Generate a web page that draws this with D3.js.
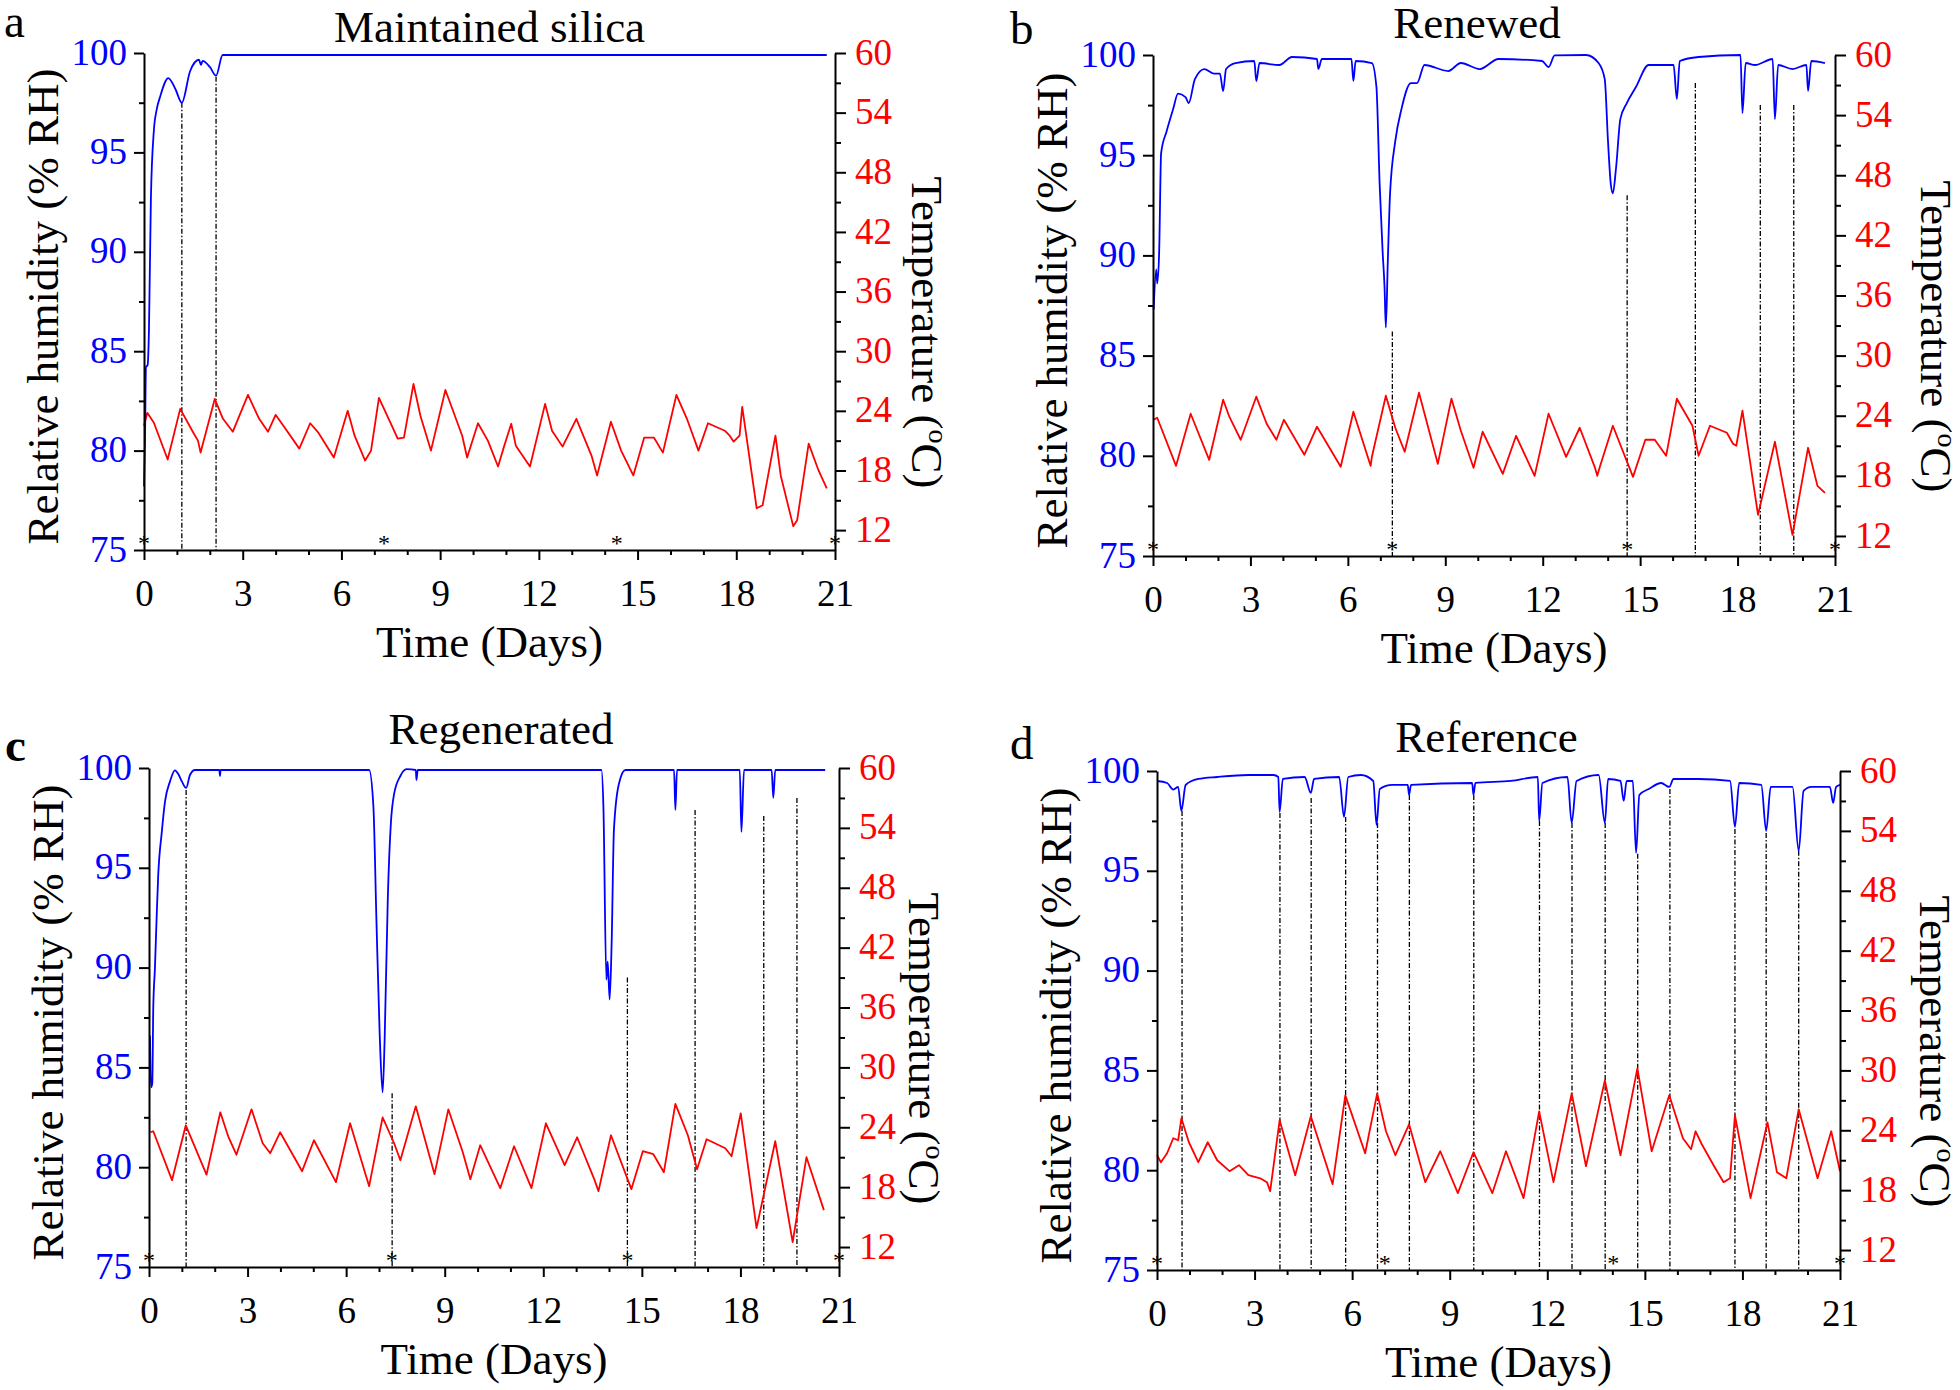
<!DOCTYPE html>
<html>
<head>
<meta charset="utf-8">
<script src="https://cdn.jsdelivr.net/npm/d3@7"></script>
<style>
  body { margin: 0; background: #fff; }
  text { font-family: "Liberation Serif", Tinos, "Times New Roman", Times, "DejaVu Serif", serif; }
</style>
</head>
<body>
<svg id="chart" width="1960" height="1390"></svg>
<script>
// ticks
const dayTicks = [0, 3, 6, 9, 12, 15, 18, 21];
const dayMinor = [1, 2, 4, 5, 7, 8, 10, 11, 13, 14, 16, 17, 19, 20];
const rhTicks = [75, 80, 85, 90, 95, 100];
const rhMinor = [77.5, 82.5, 87.5, 92.5, 97.5];
const tempTicks = [12, 18, 24, 30, 36, 42, 48, 54, 60];
const tempMinor = [15, 21, 27, 33, 39, 45, 51, 57];

const titles = ['Maintained silica', 'Renewed', 'Regenerated', 'Reference'];
const letters = ['a', 'b', 'c', 'd'];

// a - maintained silica  [day, value]
const rhA = [[0, 78.2], [0.03, 80.5], [0.06, 84.2], [0.11, 84.3], [0.15, 86.0], [0.21, 92.7], [0.3, 96.1],
  [0.385, 97.15], [0.49, 97.8], [0.74, 98.74], [0.95, 98.2], [1.15, 97.5], [1.4, 99.08], [1.67, 99.66],
  [1.73, 99.4], [1.78, 99.6], [2.0, 99.3], [2.19, 98.86], [2.39, 99.9], [10, 99.9], [20.75, 99.9]];
const tempA = [[0, 22.5], [0.1, 23.8], [0.3, 22.8], [0.72, 19.1], [1.1, 24.2], [1.5, 21.8], [1.64, 21.0],
  [1.72, 19.8], [2.15, 25.2], [2.4, 23.2], [2.7, 21.9], [3.16, 25.6], [3.5, 23.2], [3.77, 21.9], [4.0, 23.6],
  [4.3, 22.2], [4.72, 20.2], [5.05, 22.75], [5.3, 21.8], [5.77, 19.3], [6.19, 24.0], [6.4, 21.5], [6.72, 19.0],
  [6.9, 20.0], [7.14, 25.3], [7.45, 23.1], [7.71, 21.2], [7.9, 21.3], [8.19, 26.7], [8.4, 23.5], [8.72, 20.0],
  [9.16, 26.1], [9.67, 21.5], [9.82, 19.3], [10.15, 22.75], [10.45, 21.0], [10.76, 18.4], [10.95, 20.5],
  [11.16, 22.7], [11.3, 20.5], [11.73, 18.4], [12.19, 24.7], [12.4, 22.0], [12.72, 20.4], [13.14, 23.2],
  [13.6, 19.5], [13.77, 17.5], [14.19, 22.9], [14.5, 20.0], [14.87, 17.5], [15.2, 21.3], [15.5, 21.3],
  [15.77, 19.8], [16.18, 25.6], [16.5, 23.2], [16.85, 20.0], [17.14, 22.75], [17.65, 22.0], [17.8, 21.5],
  [17.92, 20.9], [18.1, 21.5], [18.18, 24.4], [18.62, 14.2], [18.8, 14.5], [19.19, 21.5], [19.35, 17.5],
  [19.73, 12.4], [19.85, 13.0], [20.2, 20.7], [20.5, 18.0], [20.75, 16.2]];
const guidesA = [[1.15, 97.5], [2.19, 98.8]];
const starsA = [0, 7.29, 14.37, 21];

// b - renewed
const rhB = [[0.02, 87.3], [0.1, 89.3], [0.13, 88.6], [0.19, 90.2], [0.25, 95.1], [0.42, 96.2], [0.62, 97.3],
  [0.77, 98.07], [1.0, 97.9], [1.1, 97.6], [1.29, 98.8], [1.58, 99.3], [1.87, 99.07], [2.06, 99.07],
  [2.16, 98.2], [2.25, 99.3], [2.54, 99.6], [3.12, 99.7], [3.18, 98.7], [3.28, 99.6], [3.89, 99.5],
  [4.28, 99.9], [5.05, 99.8], [5.09, 99.3], [5.2, 99.8], [6.11, 99.8], [6.17, 98.7], [6.24, 99.7],
  [6.74, 99.6], [6.88, 98.4], [6.98, 93.5], [7.07, 90.2], [7.13, 88.4], [7.17, 86.4], [7.23, 89.7],
  [7.3, 93.1], [7.46, 95.7], [7.65, 97.3], [7.94, 98.6], [8.13, 98.6], [8.36, 99.5], [9.09, 99.2],
  [9.48, 99.6], [10.06, 99.3], [10.64, 99.8], [11.98, 99.7], [12.18, 99.4], [12.37, 99.98], [13.33, 100],
  [13.72, 99.6], [13.91, 98.8], [14.01, 95.7], [14.1, 93.5], [14.16, 93.1], [14.26, 94.4], [14.39, 96.8],
  [14.59, 97.6], [14.87, 98.4], [15.26, 99.5], [16.03, 99.5], [16.13, 97.8], [16.22, 99.7], [16.8, 99.9],
  [18.09, 100], [18.15, 97.1], [18.25, 99.6], [18.54, 99.5], [19.08, 99.8], [19.15, 96.8], [19.25, 99.5],
  [19.69, 99.3], [20.12, 99.5], [20.17, 98.2], [20.27, 99.7], [20.69, 99.6]];
const tempB = [[0.02, 23.6], [0.13, 23.8], [0.71, 19.0], [1.16, 24.2], [1.73, 19.6], [2.16, 25.6], [2.35, 23.9],
  [2.7, 21.6], [3.18, 25.9], [3.5, 23.2], [3.8, 21.6], [4.03, 23.6], [4.66, 20.1], [5.05, 22.9], [5.78, 18.9],
  [6.17, 24.4], [6.7, 19.0], [6.74, 19.9], [7.17, 26.0], [7.46, 22.8], [7.75, 20.4], [8.19, 26.3], [8.77, 19.2],
  [9.19, 25.7], [9.48, 22.5], [9.87, 18.8], [10.15, 22.4], [10.77, 18.2], [11.18, 22.0], [11.75, 18.0],
  [12.18, 24.2], [12.72, 19.9], [13.14, 22.8], [13.6, 18.9], [13.68, 18.0], [13.76, 18.9], [14.16, 23.0],
  [14.78, 17.9], [15.16, 21.6], [15.45, 21.6], [15.8, 20.0], [16.13, 25.7], [16.61, 23.0], [16.8, 20.0],
  [17.15, 23.0], [17.67, 22.3], [17.86, 21.2], [17.96, 21.0], [18.15, 24.5], [18.63, 14.1], [19.15, 21.4],
  [19.69, 12.1], [20.17, 20.8], [20.46, 17.0], [20.69, 16.3]];
const guidesB = [[7.37, 86.2], [14.6, 93.0], [16.7, 98.6], [18.7, 97.5], [19.73, 97.5]];
const starsB = [0, 7.37, 14.6, 21];

// c - regenerated
const rhC = [[0.03, 86.6], [0.06, 84.0], [0.1, 84.2], [0.13, 88.0], [0.18, 89.95], [0.23, 92.4], [0.28, 94.6],
  [0.39, 96.8], [0.49, 98.35], [0.64, 99.33], [0.79, 99.88], [0.89, 99.7], [1.0, 99.33], [1.13, 99.0],
  [1.25, 99.66], [1.4, 99.9], [2.14, 99.9], [2.16, 99.6], [2.18, 99.9], [6.7, 99.9], [6.83, 98.06],
  [6.92, 92.5], [7.02, 86.7], [7.11, 83.75], [7.17, 86.3], [7.27, 93.6], [7.36, 97.2], [7.46, 98.7],
  [7.65, 99.6], [7.84, 99.94], [8.12, 99.9], [8.14, 99.4], [8.18, 99.9], [13.77, 99.9], [13.83, 98.06],
  [13.92, 89.4], [13.96, 90.3], [14.02, 88.4], [14.08, 91.2], [14.15, 96.9], [14.3, 99.2], [14.5, 99.9],
  [15.98, 99.9], [16.02, 97.9], [16.07, 99.9], [17.98, 99.9], [18.03, 96.8], [18.11, 99.9], [18.95, 99.9],
  [19.0, 98.5], [19.06, 99.9], [20.58, 99.9]];
const tempC = [[0.04, 23.5], [0.13, 23.6], [0.7, 18.7], [1.12, 24.2], [1.75, 19.25], [2.17, 25.5], [2.41, 23.1],
  [2.66, 21.25], [3.12, 25.8], [3.46, 22.4], [3.69, 21.4], [3.99, 23.5], [4.66, 19.6], [5.02, 22.7],
  [5.69, 18.5], [6.12, 24.4], [6.7, 18.1], [7.11, 25.0], [7.46, 22.4], [7.65, 20.7], [8.12, 26.1],
  [8.69, 19.3], [9.11, 25.8], [9.55, 21.5], [9.78, 18.8], [10.08, 22.2], [10.69, 17.9], [11.11, 22.1],
  [11.64, 17.9], [12.08, 24.4], [12.65, 20.2], [13.03, 23.0], [13.55, 18.8], [13.68, 17.6], [14.06, 23.2],
  [14.68, 17.8], [15.03, 21.6], [15.35, 21.3], [15.67, 19.5], [16.02, 26.35], [16.4, 23.2], [16.68, 19.8],
  [16.97, 22.8], [17.54, 21.9], [17.73, 21.1], [18.01, 25.4], [18.49, 13.9], [19.06, 22.6], [19.59, 12.5],
  [20.01, 21.0], [20.54, 15.7]];
const guidesC = [[1.13, 98.9], [7.4, 83.7], [14.56, 89.5], [16.62, 97.9], [18.71, 97.6], [19.72, 98.5]];
const starsC = [0, 7.39, 14.56, 21];

// d - reference
const rhD = [[0, 99.5], [0.31, 99.4], [0.5, 99.07], [0.65, 99.2], [0.75, 98.0], [0.88, 99.3], [1.27, 99.6],
  [1.85, 99.7], [2.81, 99.8], [3.58, 99.8], [3.73, 99.7], [3.77, 97.95], [3.87, 99.6], [4.54, 99.7],
  [4.73, 98.9], [4.83, 99.6], [5.6, 99.7], [5.75, 97.7], [5.88, 99.7], [6.27, 99.8], [6.65, 99.5],
  [6.75, 97.3], [6.85, 99.1], [7.23, 99.3], [7.71, 99.3], [7.75, 98.8], [7.81, 99.3], [9.69, 99.4],
  [9.73, 98.8], [9.79, 99.4], [10.88, 99.5], [11.71, 99.7], [11.75, 97.5], [11.85, 99.4], [12.62, 99.7],
  [12.75, 97.4], [12.9, 99.5], [13.58, 99.8], [13.77, 97.4], [13.87, 99.6], [14.25, 99.5], [14.35, 98.5],
  [14.44, 99.5], [14.63, 99.5], [14.73, 95.9], [14.83, 98.8], [15.12, 99.1], [15.5, 99.4], [15.75, 99.2],
  [15.88, 99.6], [16.65, 99.6], [17.62, 99.5], [17.77, 97.2], [17.9, 99.4], [18.58, 99.3], [18.73, 97.0],
  [18.87, 99.2], [19.54, 99.2], [19.73, 96.0], [19.88, 99.0], [20.12, 99.2], [20.69, 99.2], [20.79, 98.4],
  [20.88, 99.2], [21.0, 99.3]];
const tempD = [[0, 21.5], [0.12, 20.8], [0.31, 21.7], [0.5, 23.2], [0.65, 23.0], [0.75, 25.2], [0.98, 22.8],
  [1.27, 20.8], [1.56, 22.8], [1.85, 21.0], [2.23, 19.9], [2.52, 20.5], [2.81, 19.5], [3.2, 19.15],
  [3.38, 18.8], [3.48, 17.9], [3.77, 25.0], [4.25, 19.5], [4.73, 25.4], [5.4, 18.6], [5.79, 27.5],
  [6.4, 21.7], [6.77, 27.7], [7.04, 23.9], [7.33, 21.5], [7.75, 24.6], [8.25, 18.8], [8.71, 21.9],
  [9.25, 17.7], [9.73, 21.8], [10.31, 17.7], [10.73, 21.9], [11.27, 17.2], [11.75, 25.9], [12.19, 18.8],
  [12.75, 27.7], [13.19, 20.4], [13.77, 29.0], [14.25, 21.5], [14.77, 30.2], [15.21, 21.9], [15.75, 27.5],
  [16.17, 23.2], [16.42, 22.1], [16.56, 23.9], [16.75, 22.6], [17.13, 20.4], [17.42, 18.8], [17.62, 19.2],
  [17.77, 25.5], [18.25, 17.2], [18.77, 24.8], [19.06, 19.8], [19.35, 19.2], [19.73, 26.1], [20.31, 19.2],
  [20.73, 23.9], [21.0, 19.9]];
const guidesD = [[0.77, 98.0], [3.78, 97.9], [4.74, 98.65], [5.8, 97.7], [6.78, 97.4], [7.76, 98.8],
  [9.74, 98.8], [11.76, 97.5], [12.76, 97.4], [13.78, 97.4], [14.78, 95.85], [15.77, 99.1], [17.77, 97.1],
  [18.73, 96.9], [19.73, 96.0]];
const starsD = [0, 7.0, 14.03, 21];

// where each panel sits on the page
const layout = [
  { left: 144, right: 835, top: 53, bottom: 550, letterX: 4, letterY: 37, titleDx: 0, titleY: 42, rOff: 77 },
  { left: 1153, right: 1835, top: 55, bottom: 556, letterX: 1010, letterY: 44, titleDx: -17, titleY: 38, rOff: 86 },
  { left: 149, right: 839, top: 768, bottom: 1267, letterX: 5, letterY: 761, titleDx: 7, titleY: 744, rOff: 70 },
  { left: 1157, right: 1840, top: 771, bottom: 1270, letterX: 1010, letterY: 759, titleDx: -12, titleY: 752, rOff: 80 }
];

const panels = [
  { rh: rhA, temp: tempA, guides: guidesA, stars: starsA },
  { rh: rhB, temp: tempB, guides: guidesB, stars: starsB },
  { rh: rhC, temp: tempC, guides: guidesC, stars: starsC },
  { rh: rhD, temp: tempD, guides: guidesD, stars: starsD }
].map((p, i) => Object.assign(p, layout[i], { title: titles[i], letter: letters[i] }));

const BLUE = '#0000ff';
const RED = '#ff0000';
const FONT = '"Liberation Serif", Tinos, "Times New Roman", Times, "DejaVu Serif", serif';
const svg = d3.select('#chart');

function styleAxis(sel, size, color) {
  sel.attr('font-size', size).attr('font-family', FONT);
  sel.select('.domain').attr('stroke', '#000').attr('stroke-width', 2);
  sel.selectAll('.tick line').attr('stroke', '#000').attr('stroke-width', 2);
  sel.selectAll('.tick text').attr('fill', color);
}

function minorTicks(s) {
  s.select('.domain').remove();
  s.selectAll('line').attr('stroke', '#000').attr('stroke-width', 2);
}

function drawPanel(p) {
  const x = d3.scaleLinear().domain([0, 21]).range([p.left, p.right]);
  const yRH = d3.scaleLinear().domain([75, 100]).range([p.bottom, p.top]);
  const yT = d3.scaleLinear().domain([10, 60]).range([p.bottom, p.top]);
  const g = svg.append('g').attr('font-family', FONT);

  // dash-dot guide lines
  g.selectAll('.guide').data(p.guides).enter().append('line')
    .attr('class', 'guide')
    .attr('x1', d => x(d[0])).attr('x2', d => x(d[0]))
    .attr('y1', d => yRH(d[1])).attr('y2', yRH(75))
    .attr('stroke', '#000').attr('stroke-width', 1.3)
    .attr('stroke-dasharray', '5,2,1.5,2');

  const tLine = d3.line().x(d => x(d[0])).y(d => yT(d[1]));
  const hLine = d3.line().x(d => x(d[0])).y(d => yRH(d[1])).curve(d3.curveMonotoneX);

  g.append('path').datum(p.temp).attr('d', tLine)
    .attr('fill', 'none').attr('stroke', RED).attr('stroke-width', 1.8).attr('stroke-linejoin', 'round');
  g.append('path').datum(p.rh).attr('d', hLine)
    .attr('fill', 'none').attr('stroke', BLUE).attr('stroke-width', 1.8).attr('stroke-linejoin', 'round');

  // asterisks
  g.selectAll('.star').data(p.stars).enter().append('text')
    .attr('class', 'star')
    .attr('x', d => x(d)).attr('y', yRH(75.45) + 10)
    .attr('text-anchor', 'middle').attr('font-size', 24).attr('fill', '#000')
    .text('*');

  // bottom axis
  g.append('g').attr('transform', `translate(0,${p.bottom})`)
    .call(d3.axisBottom(x).tickValues(dayMinor).tickSize(5).tickFormat(''))
    .call(minorTicks);
  const xa = g.append('g').attr('transform', `translate(0,${p.bottom})`)
    .call(d3.axisBottom(x).tickValues(dayTicks).tickSize(10).tickSizeOuter(0));
  styleAxis(xa, 37, '#000');
  xa.selectAll('.tick text').attr('y', 56).attr('dy', 0);

  // left axis (RH)
  g.append('g').attr('transform', `translate(${p.left},0)`)
    .call(d3.axisLeft(yRH).tickValues(rhMinor).tickSize(5).tickFormat(''))
    .call(minorTicks);
  const ya = g.append('g').attr('transform', `translate(${p.left},0)`)
    .call(d3.axisLeft(yRH).tickValues(rhTicks).tickSize(10).tickPadding(7).tickSizeOuter(0));
  styleAxis(ya, 37, BLUE);
  ya.selectAll('.tick text').attr('dy', '0.3em');

  // right axis (temperature)
  g.append('g').attr('transform', `translate(${p.right},0)`)
    .call(d3.axisRight(yT).tickValues(tempMinor).tickSize(6).tickFormat(''))
    .call(minorTicks);
  const ta = g.append('g').attr('transform', `translate(${p.right},0)`)
    .call(d3.axisRight(yT).tickValues(tempTicks).tickSize(11).tickPadding(9).tickSizeOuter(0));
  styleAxis(ta, 37, RED);
  ta.selectAll('.tick text').attr('dy', '0.3em');

  const midX = (p.left + p.right) / 2;
  const midY = (p.top + p.bottom) / 2;

  // titles and labels
  g.append('text').attr('x', midX + p.titleDx).attr('y', p.titleY)
    .attr('text-anchor', 'middle').attr('font-size', 45).attr('fill', '#000').text(p.title);
  g.append('text').attr('x', p.letterX).attr('y', p.letterY)
    .attr('font-size', 47).attr('fill', '#000')
    .attr('font-weight', p.letter === 'c' ? 'bold' : 'normal').text(p.letter);
  g.append('text').attr('x', midX).attr('y', p.bottom + 107)
    .attr('text-anchor', 'middle').attr('font-size', 45).attr('fill', '#000').text('Time (Days)');
  g.append('text')
    .attr('transform', `translate(${p.left - 86},${midY + 5}) rotate(-90)`)
    .attr('text-anchor', 'middle').attr('font-size', 45).attr('fill', '#000')
    .text('Relative humidity (% RH)');
  const rt = g.append('text')
    .attr('transform', `translate(${p.right + p.rOff},${midY + 31}) rotate(90)`)
    .attr('text-anchor', 'middle').attr('font-size', 45).attr('fill', '#000');
  rt.append('tspan').text('Temperature (');
  rt.append('tspan').attr('font-size', 28).attr('dy', -17).text('o');
  rt.append('tspan').attr('dy', 17).text('C)');
}

panels.forEach(drawPanel);
</script>
</body>
</html>
